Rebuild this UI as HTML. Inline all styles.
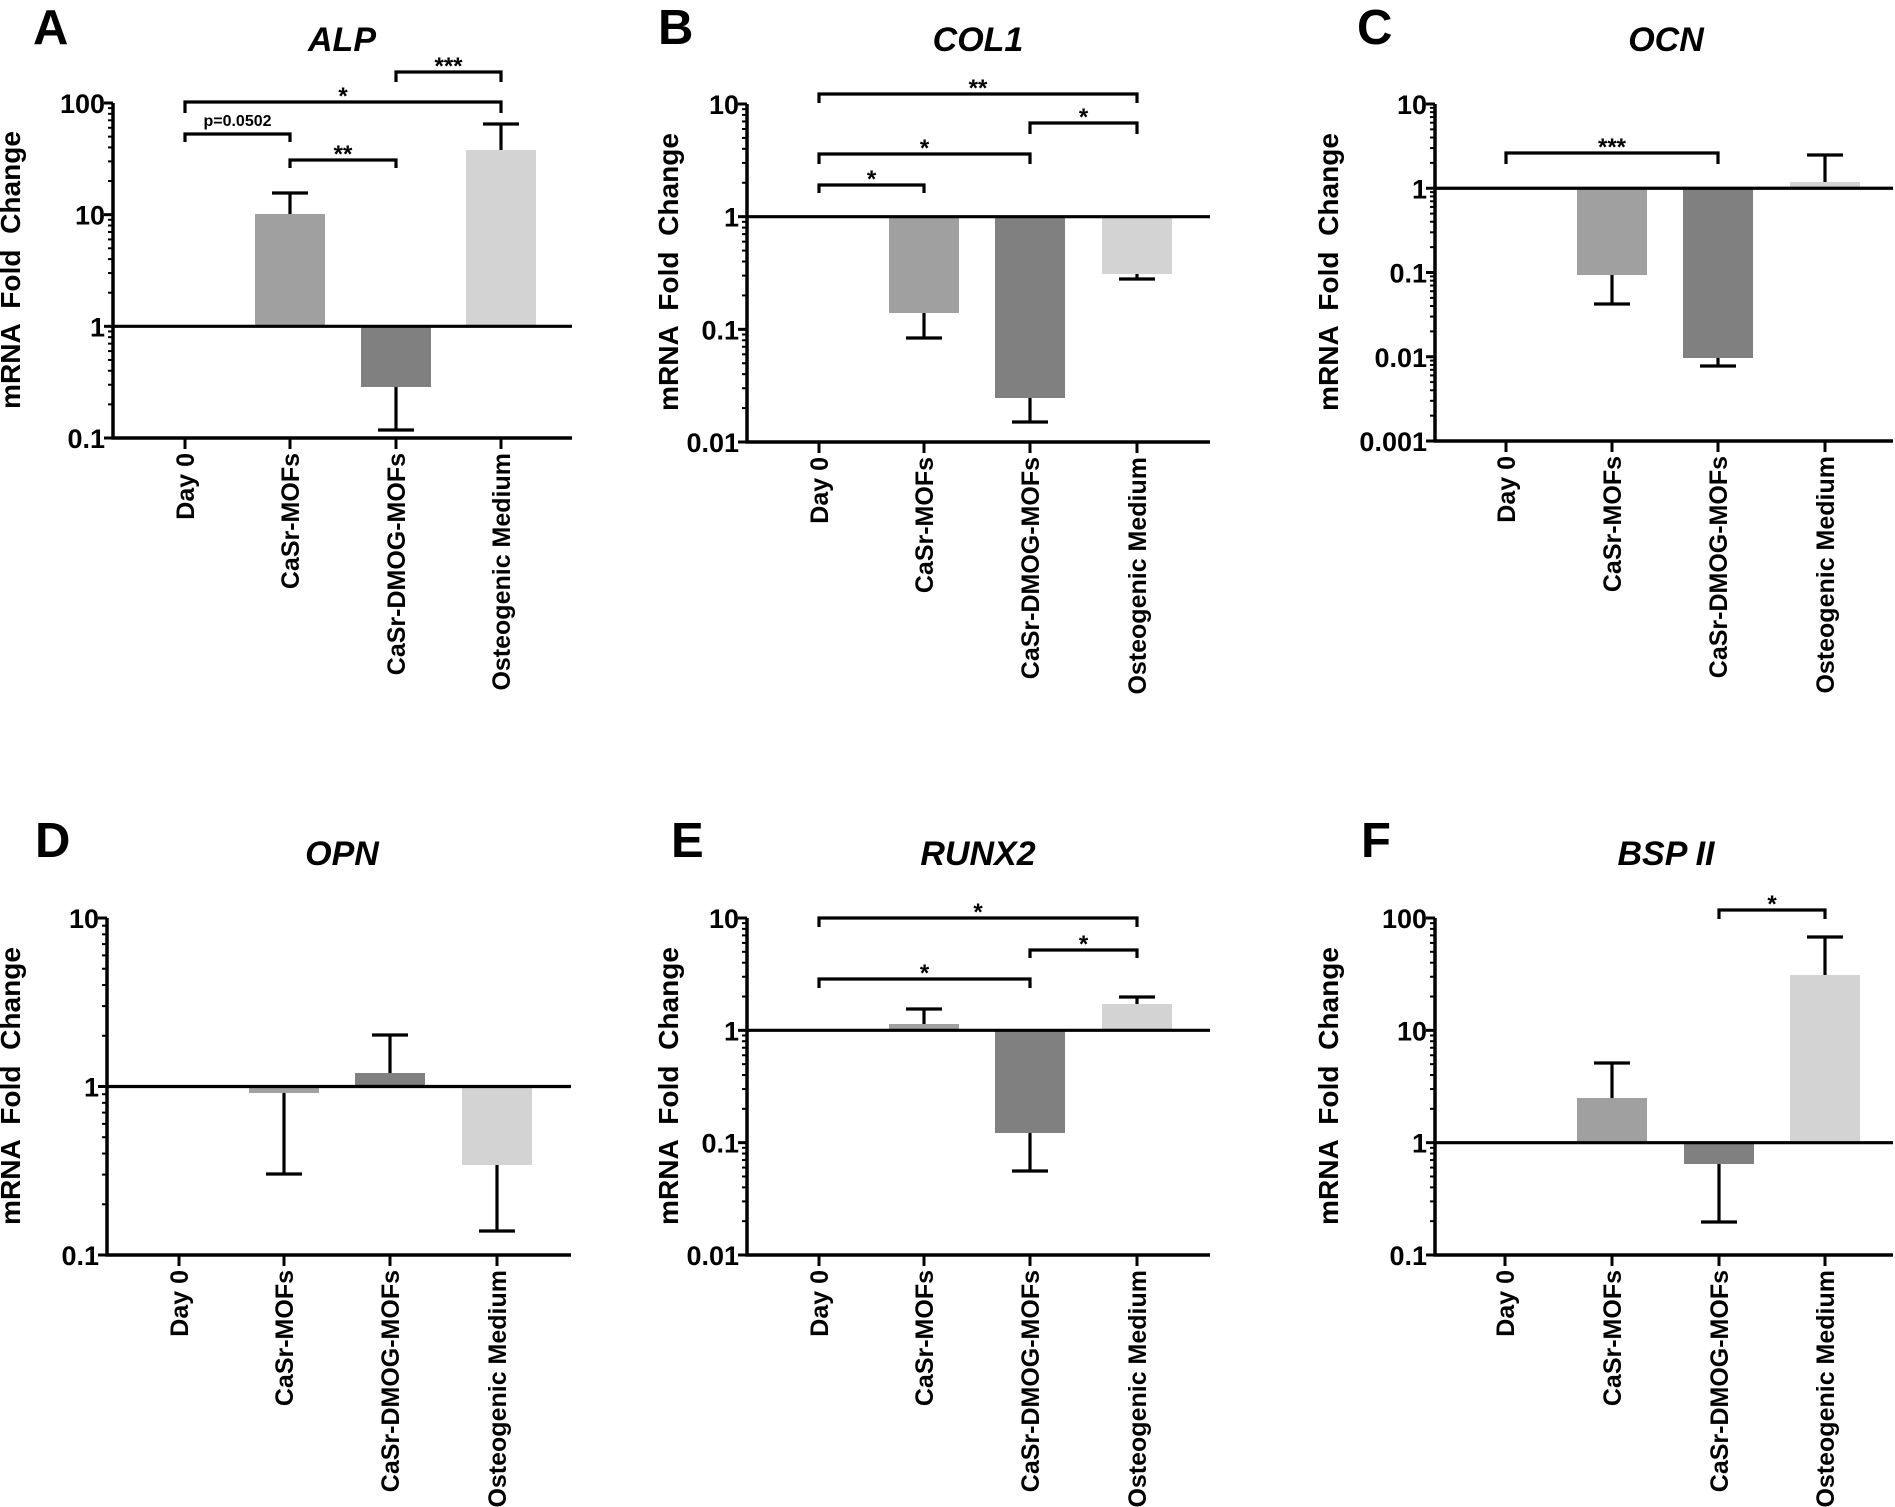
<!DOCTYPE html>
<html><head><meta charset="utf-8"><style>
html,body{margin:0;padding:0;background:#fff;}
svg{display:block;font-family:"Liberation Sans",Arial,sans-serif;}
</style></head><body>
<svg id="s" xmlns="http://www.w3.org/2000/svg" width="1895" height="1507" viewBox="0 0 1895 1507"></svg>
<script>
const S=document.getElementById('s');let h='';
const P=[
{L:'A',lx:33,ly:44,t:'ALP',tx:342,ty:51,ax:113,xe:572,c:[185,290,396,501],te:2,ty0:103,be:-1,by:438,yl:20,yc:270,
 bars:[[1,214,193,'#a0a0a0'],[2,387,430,'#808080'],[3,150,124,'#d3d3d3']],
 br:[[0,1,134,142,'p=0.0502',true],[1,2,160,168,'**'],[0,3,102,113,'*'],[2,3,72,82,'***']]},
{L:'B',lx:658,ly:44,t:'COL1',tx:978,ty:51,ax:747,xe:1210,c:[819,924,1030,1137],te:1,ty0:104,be:-2,by:442,yl:678,yc:272,
 bars:[[1,313,338,'#a0a0a0'],[2,398,422,'#808080'],[3,274,279,'#d3d3d3']],
 br:[[0,3,94,103,'**'],[2,3,123,134,'*'],[0,2,154,164,'*'],[0,1,185,193,'*']]},
{L:'C',lx:1357,ly:44,t:'OCN',tx:1666,ty:51,ax:1435,xe:1893,c:[1506,1612,1718,1825],te:1,ty0:104,be:-3,by:441,yl:1338,yc:272,
 bars:[[1,275,304,'#a0a0a0'],[2,358,366,'#808080'],[3,182,155,'#d3d3d3']],
 br:[[0,2,153,164,'***']]},
{L:'D',lx:35,ly:857,t:'OPN',tx:342,ty:865,ax:107,xe:571,c:[179,284,390,497],te:1,ty0:918,be:-1,by:1255,yl:20,yc:1086,
 bars:[[1,1093,1174,'#a0a0a0'],[2,1073,1035,'#808080'],[3,1165,1231,'#d3d3d3']],br:[]},
{L:'E',lx:671,ly:857,t:'RUNX2',tx:978,ty:865,ax:747,xe:1210,c:[819,924,1030,1137],te:1,ty0:918,be:-2,by:1255,yl:678,yc:1086,
 bars:[[1,1024,1009,'#a0a0a0'],[2,1133,1171,'#808080'],[3,1004,997,'#d3d3d3']],
 br:[[0,3,918,927,'*'],[2,3,950,958,'*'],[0,2,979,988,'*']]},
{L:'F',lx:1361,ly:857,t:'BSP II',tx:1666,ty:865,ax:1435,xe:1893,c:[1505,1612,1719,1825],te:2,ty0:918,be:-1,by:1255,yl:1338,yc:1086,
 bars:[[1,1098,1063,'#a0a0a0'],[2,1164,1222,'#808080'],[3,975,937,'#d3d3d3']],
 br:[[2,3,910,919,'*']]}
];
const cats=['Day 0','CaSr-MOFs','CaSr-DMOG-MOFs','Osteogenic Medium'];
function lab(e){return e>=0?String(Math.pow(10,e)):(e==-1?'0.1':e==-2?'0.01':'0.001');}
for(const p of P){
 const dec=(p.by-p.ty0)/(p.te-p.be);
 const y=v=>p.ty0+(p.te-Math.log10(v))*dec;
 const y1=y(1);
 h+=`<text x="${p.lx}" y="${p.ly}" font-size="49" font-weight="bold">${p.L}</text>`;
 h+=`<text x="${p.tx}" y="${p.ty}" font-size="34" font-weight="bold" font-style="italic" text-anchor="middle">${p.t}</text>`;
 h+=`<text transform="translate(${p.yl},${p.yc}) rotate(-90)" font-size="28" font-weight="bold" text-anchor="middle" textLength="278" lengthAdjust="spacingAndGlyphs" xml:space="preserve">mRNA  Fold  Change</text>`;
 for(const b of p.bars){const cx=p.c[b[0]];const top=Math.min(y1,b[1]),bot=Math.max(y1,b[1]);
  h+=`<rect x="${cx-35}" y="${top}" width="70" height="${bot-top}" fill="${b[3]}"/>`;
  h+=`<line x1="${cx}" y1="${b[1]}" x2="${cx}" y2="${b[2]}" stroke="#000" stroke-width="3.2"/>`;
  h+=`<line x1="${cx-18}" y1="${b[2]}" x2="${cx+18}" y2="${b[2]}" stroke="#000" stroke-width="3.2"/>`;}
 h+=`<line x1="${p.ax}" y1="${p.ty0}" x2="${p.ax}" y2="${p.by+1.5}" stroke="#000" stroke-width="3.5"/>`;
 h+=`<line x1="${p.ax-1.5}" y1="${p.by}" x2="${p.xe}" y2="${p.by}" stroke="#000" stroke-width="3.5"/>`;
 h+=`<line x1="${p.ax}" y1="${y1}" x2="${p.xe}" y2="${y1}" stroke="#000" stroke-width="3.2"/>`;
 for(let e=p.be;e<=p.te;e++){const yy=p.ty0+(p.te-e)*dec;
  h+=`<line x1="${p.ax-9}" y1="${yy}" x2="${p.ax}" y2="${yy}" stroke="#000" stroke-width="3"/>`;
  h+=`<text x="${p.ax-8}" y="${yy+10}" font-size="27" font-weight="bold" text-anchor="end">${lab(e)}</text>`;
  if(e<p.te)for(let k=2;k<=9;k++){const ym=yy-Math.log10(k)*dec;
   h+=`<line x1="${p.ax-5}" y1="${ym}" x2="${p.ax}" y2="${ym}" stroke="#000" stroke-width="2"/>`;}}
 p.c.forEach((cx,i)=>{h+=`<line x1="${cx}" y1="${p.by}" x2="${cx}" y2="${p.by+11}" stroke="#000" stroke-width="3"/>`;
  h+=`<text transform="translate(${cx+9},${p.by+15}) rotate(-90)" font-size="25" font-weight="bold" text-anchor="end">${cats[i]}</text>`;});
 for(const b of p.br){const x1=p.c[b[0]],x2=p.c[b[1]];
  h+=`<path d="M${x1} ${b[3]}V${b[2]}H${x2}V${b[3]}" fill="none" stroke="#000" stroke-width="3.2"/>`;
  const mx=(x1+x2)/2;
  if(b[5])h+=`<text x="${mx}" y="${b[2]-8}" font-size="16" font-weight="bold" text-anchor="middle">${b[4]}</text>`;
  else h+=`<text x="${mx}" y="${b[2]+2}" font-size="24" font-weight="bold" text-anchor="middle">${b[4]}</text>`;}
}
S.innerHTML=h;
</script>
</body></html>
